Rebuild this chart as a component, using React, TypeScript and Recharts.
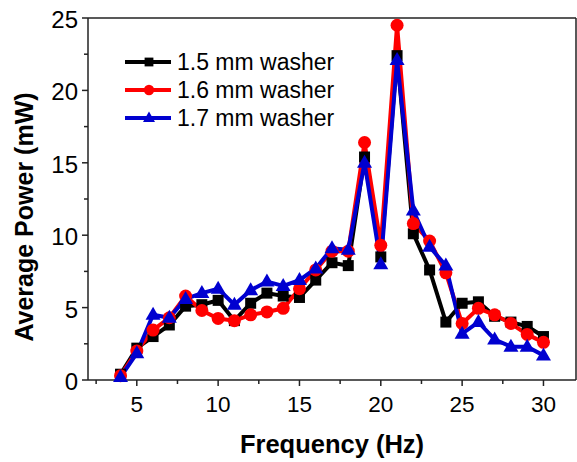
import { Legend, Line, LineChart, ReferenceLine, XAxis, YAxis } from 'recharts'

// frequency sweep, Hz
const frequencies = [
  4, 5, 6, 7, 8, 9, 10, 11, 12, 13, 14, 15, 16, 17, 18, 19, 20, 21, 22, 23, 24, 25, 26, 27, 28, 29, 30,
]

// average power (mW) per washer thickness
const washer15 = [
  0.4, 2.2, 3.0, 3.8, 5.1, 5.2, 5.5, 4.1, 5.3, 6.0, 5.8, 5.7, 6.9, 8.1, 7.9, 15.4, 8.5, 22.4, 10.1, 7.6,
  4.0, 5.3, 5.4, 4.4, 4.0, 3.7, 3.0,
]
const washer16 = [
  0.3, 2.0, 3.45, 4.3, 5.8, 4.8, 4.25, 4.1, 4.5, 4.7, 4.95, 6.3, 7.6, 8.9, 8.9, 16.4, 9.3, 24.5, 10.8,
  9.6, 7.4, 3.9, 4.95, 4.5, 3.9, 3.15, 2.6,
]
const washer17 = [
  0.2, 1.85, 4.5, 4.3, 5.6, 6.0, 6.3, 5.2, 6.2, 6.8, 6.5, 6.9, 7.7, 9.1, 9.0, 15.0, 8.0, 22.1, 11.7, 9.2,
  7.9, 3.2, 4.0, 2.8, 2.3, 2.3, 1.7,
]

const xTicks = [2.5, 5, 7.5, 10, 12.5, 15, 17.5, 20, 22.5, 25, 27.5, 30]
const yTicks = [0, 2.5, 5, 7.5, 10, 12.5, 15, 17.5, 20, 22.5, 25]

const FONT = '"Liberation Sans", Arial, sans-serif'
const AXIS = '#222'
const BLUE = '#0000d0'

const data = frequencies.map((f, i) => ({
  f,
  w15: washer15[i],
  w16: washer16[i],
  w17: washer17[i],
}))

type Shape = 'square' | 'circle' | 'triangle'

const Marker = ({ cx, cy, shape, color, s = 1 }: { cx: number; cy: number; shape: Shape; color: string; s?: number }) => {
  if (shape === 'square') {
    return <rect x={cx - 5.5 * s} y={cy - 5.5 * s} width={11 * s} height={11 * s} fill={color} />
  }
  if (shape === 'circle') {
    return <circle cx={cx} cy={cy} r={6.5 * s} fill={color} />
  }
  return (
    <polygon
      points={`${cx},${cy - 8 * s} ${cx + 7.5 * s},${cy + 5 * s} ${cx - 7.5 * s},${cy + 5 * s}`}
      fill={color}
    />
  )
}

const series = [
  { key: 'w15', name: '1.5 mm washer', color: '#000000', shape: 'square' as Shape },
  { key: 'w16', name: '1.6 mm washer', color: '#ff0000', shape: 'circle' as Shape },
  { key: 'w17', name: '1.7 mm washer', color: BLUE, shape: 'triangle' as Shape },
]

const XTick = ({ x, y, payload }: any) => {
  const v = payload.value
  const major = v % 5 === 0
  return (
    <g>
      <line x1={x} x2={x} y1={y} y2={y + (major ? 6 : 4)} stroke={AXIS} strokeWidth={1.5} />
      {major && (
        <text x={x} y={y + 32} textAnchor="middle" fontSize={22.5} fontFamily={FONT} fill="#000">
          {v}
        </text>
      )}
    </g>
  )
}

const YTick = ({ x, y, payload }: any) => {
  const v = payload.value
  const major = v % 5 === 0
  return (
    <g>
      <line x1={x} x2={x - (major ? 6 : 4)} y1={y} y2={y} stroke={AXIS} strokeWidth={1.5} />
      {major && (
        <text x={x - 10} y={y + 10} textAnchor="end" fontSize={24} fontFamily={FONT} fill="#000">
          {v}
        </text>
      )}
    </g>
  )
}

const LegendBox = () => (
  <div style={{ fontFamily: FONT, fontSize: 23, color: '#000' }}>
    {series.map((s) => (
      <div key={s.key} style={{ display: 'flex', alignItems: 'center', height: 28 }}>
        <svg width={50} height={20} style={{ marginRight: 2 }}>
          <line x1={0} x2={46} y1={10} y2={10} stroke={s.color} strokeWidth={4} />
          <Marker cx={24} cy={10} shape={s.shape} color={s.color} s={0.8} />
        </svg>
        <span>{s.name}</span>
      </div>
    ))}
  </div>
)

export default function App() {
  return (
    <div style={{ position: 'absolute', left: 0, top: 0, width: 577, height: 462, background: '#fff' }}>
      <LineChart width={577} height={462} data={data} margin={{ top: 18, right: 1, bottom: 0, left: 0 }}>
        <XAxis
          type="number"
          dataKey="f"
          domain={[2, 32]}
          ticks={xTicks}
          interval={0}
          height={82}
          stroke={AXIS}
          strokeWidth={1.5}
          tickLine={false}
          tickSize={0}
          tickMargin={0}
          tick={XTick}
          label={{
            content: ({ viewBox }: any) => (
              <text
                x={viewBox.x + viewBox.width / 2}
                y={viewBox.y + 73}
                textAnchor="middle"
                fontSize={25.5}
                fontWeight="bold"
                fontFamily={FONT}
                fill="#000"
              >
                Frequency (Hz)
              </text>
            ),
          }}
        />
        <YAxis
          type="number"
          domain={[0, 25]}
          ticks={yTicks}
          interval={0}
          width={88}
          stroke={AXIS}
          strokeWidth={1.5}
          tickLine={false}
          tickSize={0}
          tickMargin={0}
          tick={YTick}
          label={{
            content: ({ viewBox }: any) => {
              const cx = viewBox.x + 33
              const cy = viewBox.y + viewBox.height / 2 + 18
              return (
                <text
                  x={cx}
                  y={cy}
                  transform={`rotate(-90 ${cx} ${cy})`}
                  textAnchor="middle"
                  fontSize={25}
                  fontWeight="bold"
                  fontFamily={FONT}
                  fill="#000"
                >
                  Average Power (mW)
                </text>
              )
            },
          }}
        />
        <ReferenceLine y={25} stroke={AXIS} strokeWidth={1.5} />
        <ReferenceLine x={32} stroke={AXIS} strokeWidth={1.5} />
        <Legend
          layout="vertical"
          align="center"
          verticalAlign="middle"
          wrapperStyle={{ left: 125, top: 48, width: 'auto' }}
          content={LegendBox}
        />
        {series.map((s) => (
          <Line
            key={s.key}
            type="linear"
            dataKey={s.key}
            name={s.name}
            stroke={s.color}
            strokeWidth={4}
            isAnimationActive={false}
            dot={(p: any) => <Marker key={`${s.key}-${p.index}`} cx={p.cx} cy={p.cy} shape={s.shape} color={s.color} />}
            activeDot={false}
          />
        ))}
      </LineChart>
    </div>
  )
}
